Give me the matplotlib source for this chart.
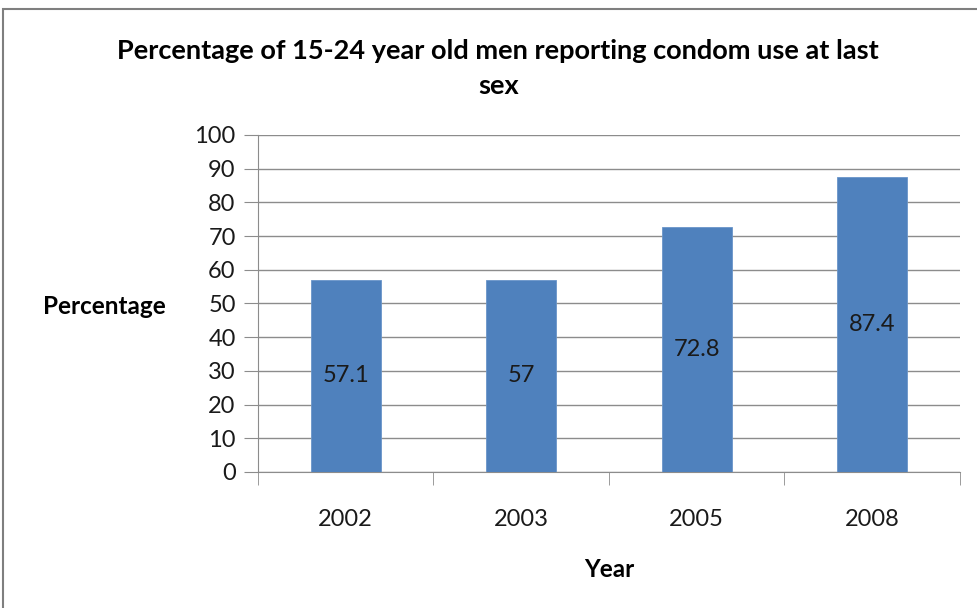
import matplotlib.pyplot as plt
from matplotlib.patches import Rectangle

plt.rcParams['font.family'] = ['Lato', 'DejaVu Sans']

years = ['2002', '2003', '2005', '2008']
percentages = [57.1, 57, 72.8, 87.4]
value_labels = ['57.1', '57', '72.8', '87.4']

bar_color = '#4F81BD'
grid_color = '#8C8C8C'

fig = plt.figure(figsize=(9.77, 6.08), dpi=100)
ax = fig.add_axes([0.264, 0.2237, 0.7186, 0.5543])

# outer chart frame (only left and top edges fall inside the canvas)
fig.patches.append(Rectangle((3 / 977, -0.1), 1.2, 1 - 9 / 608 + 0.1,
                             transform=fig.transFigure, fill=False,
                             edgecolor='#7F7F7F', linewidth=1.5))

x = range(len(years))
bars = ax.bar(x, percentages, width=0.4, color=bar_color,
              edgecolor='#6A95C9', linewidth=0.6, zorder=3)
ax.bar_label(bars, labels=value_labels, label_type='center',
             fontsize=17, color='#1A1A1A')

ax.set_xlim(-0.5, len(years) - 0.5)
ax.set_ylim(0, 100)
ax.set_yticks(range(0, 101, 10))
ax.set_xticks(x)
ax.set_xticklabels(years)
ax.set_xticks([i - 0.5 for i in range(len(years) + 1)], minor=True)

ax.yaxis.grid(True, color=grid_color, linewidth=1.0, zorder=0)
ax.set_axisbelow(True)
for side in ['top', 'right']:
    ax.spines[side].set_visible(False)
ax.spines['left'].set_color(grid_color)
ax.spines['bottom'].set_color(grid_color)

ax.tick_params(axis='y', length=10, color=grid_color, labelsize=17,
               labelcolor='#1A1A1A', pad=6)
ax.tick_params(axis='x', which='major', length=0, labelsize=17,
               labelcolor='#1A1A1A', pad=27)
ax.tick_params(axis='x', which='minor', length=9, color=grid_color)

ax.set_xlabel('Year', fontsize=17.5, fontweight='bold', labelpad=20)
ax.set_ylabel('Percentage', fontsize=17.5, fontweight='bold', rotation=0,
              ha='center', va='center')
ax.yaxis.set_label_coords(-0.219, 0.49)

fig.text(0.51, 0.888, 'Percentage of 15-24 year old men reporting condom use at last\nsex',
         ha='center', va='center', fontsize=19.5, fontweight='bold',
         linespacing=1.55)

fig.savefig('out.png', dpi=100)
